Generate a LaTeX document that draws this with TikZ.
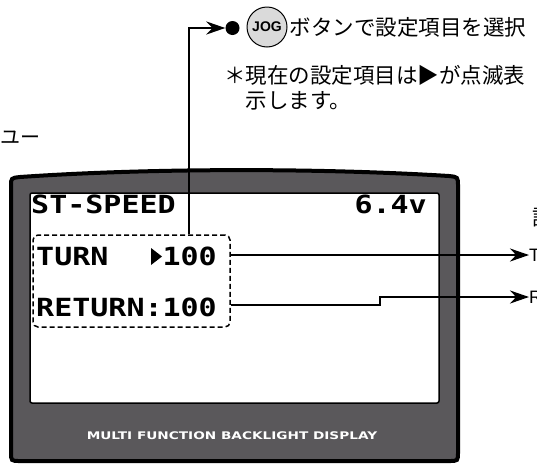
\documentclass[tikz,border=0pt]{standalone}
\usepackage{fontspec}
\usepackage{tikz}
\usetikzlibrary{arrows.meta,positioning}
\newfontfamily\jpfont{Noto Sans CJK JP}
\newfontfamily\lcdfont[FakeStretch=1.2]{DejaVu Sans Mono}
\newfontfamily\bezelfont[FakeStretch=1.3]{DejaVu Sans}
\newfontfamily\sidefont{Liberation Sans}
\definecolor{bezelgray}{HTML}{5A585B}
\definecolor{joggray}{HTML}{DADADA}

\begin{document}
\begin{tikzpicture}[x=1pt, y=-1pt,
  jptext/.style={inner sep=0pt, font=\jpfont\fontsize{21.5}{25}\selectfont},
  lcdtext/.style={inner sep=0pt, font=\lcdfont\bfseries\fontsize{25}{25}\selectfont},
  sidetext/.style={inner sep=0pt, font=\sidefont\fontsize{18}{18}\selectfont},
  conn/.style={line width=2.6pt, -{Stealth[length=19pt, width=13pt]}},
  selbox/.style={draw, dash pattern=on 5pt off 3pt, line width=1.5pt,
    rounded corners=5pt, inner sep=0pt, minimum width=197pt, minimum height=92pt}]
  \useasboundingbox (0,0) rectangle (537,464);
  % bezel and screen
  \filldraw[fill=bezelgray, line width=4pt] (11,186) .. controls (11,178) .. (20,177)
    .. controls (150,168) and (320,168) .. (449,176) .. controls (458,177) .. (458,186)
    -- (458,452) .. controls (458,461) .. (449,461) -- (20,461)
    .. controls (11,461) .. (11,452) -- cycle;
  \filldraw[fill=white, line width=1.5pt, rounded corners=2pt] (30,193) rectangle (439,403);
  \node[text=white, inner sep=0pt, font=\bezelfont\bfseries\fontsize{10.5}{10.5}\selectfont]
    (brand) at (232,436) {MULTI FUNCTION BACKLIGHT DISPLAY};

  % lcd lines
  \node[lcdtext, anchor=base west] (title) at (31,213) {ST-SPEED};
  \node[lcdtext, anchor=base east] (volt) at (427,213) {6.4v};
  \node[lcdtext, anchor=base west] (turn) at (36,265) {TURN\ \ \ 100};
  \fill (turn.base west) ++(115,0) -- ++(0,-17) -- ++(11,8.5) -- cycle;
  \node[lcdtext, anchor=base west] (ret) at (36,316) {RETURN:100};
  \node[selbox] (sel) at (131.5,281) {};

  % jog note
  \node[circle, fill, inner sep=0pt, minimum size=14pt] (dot) at (232.5,28) {};
  \node[circle, draw, fill=joggray, line width=1pt, inner sep=0pt, minimum size=40pt,
    font=\sidefont\bfseries\fontsize{14}{14}\selectfont] (jog) at (267,27) {JOG};
  \node[jptext, right=2pt of jog] (selmsg) {ボタンで設定項目を選択};
  \node[jptext, anchor=west, align=left] (blinkmsg) at (224,87.5)
    {＊現在の設定項目は▶が点滅表\\\hspace*{1em}示します。};
  \node[jptext, anchor=west, font=\jpfont\fontsize{20}{20}\selectfont] (menu) at (0,138) {ユー};
  \coordinate (bend) at (189,28);
  \draw[conn] (sel.north -| bend) -- (bend) -- (dot.west);

  % side labels
  \node[jptext, anchor=west] (sidehead) at (532,218) {設};
  \node[sidetext, anchor=west] (turnlbl) at (529,255) {T};
  \node[sidetext, anchor=west] (retlbl) at (529,297) {R};
  \coordinate (retstep) at (380,305);
  \draw[conn] (sel.east |- turnlbl.west) -- (turnlbl.west);
  \draw[conn] (sel.east |- retstep) -- (retstep) |- (retlbl.west);
\end{tikzpicture}
\end{document}
